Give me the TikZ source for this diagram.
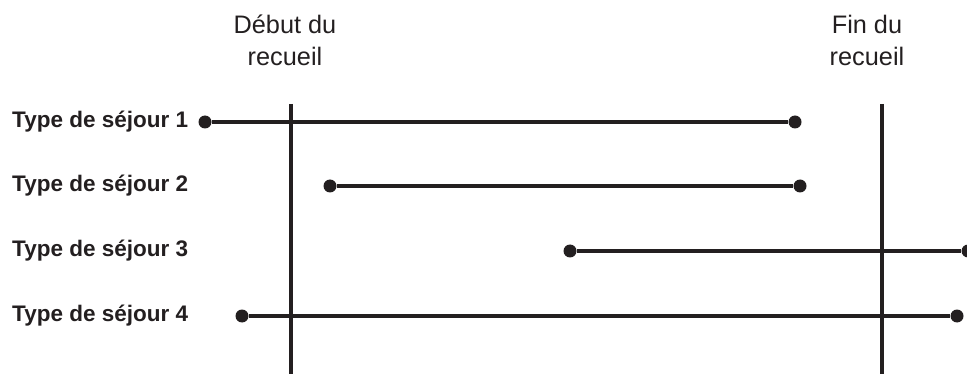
\documentclass[tikz,border=0pt]{standalone}
\usepackage{fontspec}
\setmainfont{Liberation Sans}
\usetikzlibrary{positioning}

\definecolor{encre}{HTML}{231F20}
\tikzset{
  sejour/.style={font=\bfseries\fontsize{22.5}{27}\selectfont, anchor=west, inner sep=0pt, text=encre},
  borne/.style={font=\fontsize{25.3}{32}\selectfont, align=center, inner sep=0pt, text=encre},
  bout/.style={circle, fill=encre, inner sep=0pt, minimum size=13pt},
  trait/.style={line width=3.5pt, draw=encre},
}

\begin{document}
\begin{tikzpicture}[x=1pt, y=-1pt]
\useasboundingbox (0,0) rectangle (967,374);

% Debut et fin du recueil:
\node[borne] (debut) at (285,40) {Début du\\recueil};
\node[borne] (fin) at (867,40) {Fin du\\recueil};
\coordinate (debhaut) at (291,104);
\coordinate (debbas) at (291,374);
\coordinate (finhaut) at (882,104);
\coordinate (finbas) at (882,374);
\draw[trait] (debhaut) -- (debbas);
\draw[trait] (finhaut) -- (finbas);

% Sejours:
\node[sejour] (s1) at (12,122) {Type de séjour 1};
\node[bout] (a1) at (205,122) {};
\node[bout] (b1) at (795,122) {};
\draw[trait] (a1) -- (b1);

\node[sejour] (s2) at (12,186) {Type de séjour 2};
\node[bout] (a2) at (330,186) {};
\node[bout] (b2) at (800,186) {};
\draw[trait] (a2) -- (b2);

\node[sejour] (s3) at (12,251) {Type de séjour 3};
\node[bout] (a3) at (570,251) {};
\node[bout] (b3) at (968,251) {};
\draw[trait] (a3) -- (b3);

\node[sejour] (s4) at (12,316) {Type de séjour 4};
\node[bout] (a4) at (242,316) {};
\node[bout] (b4) at (957,316) {};
\draw[trait] (a4) -- (b4);
\end{tikzpicture}
\end{document}
